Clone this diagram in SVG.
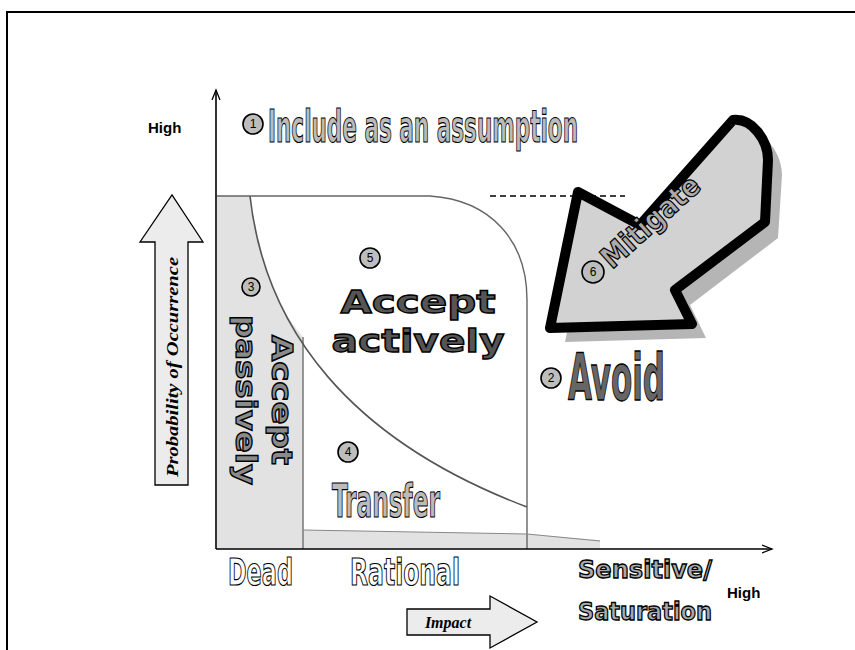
<svg xmlns="http://www.w3.org/2000/svg" width="855" height="650" viewBox="0 0 855 650">
<defs>
<style>
.ol{font-family:"DejaVu Sans Condensed","Liberation Sans",sans-serif;font-weight:bold;fill:#bbb;stroke:#000;stroke-width:1.2}
.hv{font-family:"DejaVu Sans","Liberation Sans",sans-serif;font-weight:bold;fill:#8a8a8a;stroke:#000;stroke-width:1.3}
.ax{font-family:"Liberation Sans",Arial,sans-serif;font-weight:bold;font-size:15px;fill:#000}
.it{font-family:"Liberation Serif","Times New Roman",serif;font-style:italic;font-weight:bold;fill:#000}
.num circle{fill:#bdbdbd;stroke:#000;stroke-width:1.6}
.num text{font-family:"Liberation Sans",Arial,sans-serif;font-size:12px;fill:#000;text-anchor:middle}
.zone{fill:#e2e2e2}
.edge{fill:none;stroke:#777;stroke-width:1.5}
</style>
<marker id="ah" markerWidth="12" markerHeight="10" refX="10" refY="5" orient="auto" markerUnits="userSpaceOnUse">
<path d="M0,1 L10,5 L0,9" fill="none" stroke="#000" stroke-width="1.3"/>
</marker>
</defs>
<rect width="855" height="650" fill="#fff"/>
<!-- frame -->
<path d="M7,650 V12 H855" fill="none" stroke="#000" stroke-width="2"/>

<!-- regions -->
<g id="zones">
<path class="zone" d="M217,196 L250,196 Q262,290 303,337 L303,549 L217,549 Z"/>
<path class="zone" d="M303,530 L527,534 L600,540 L600,549 L303,549 Z"/>
<path d="M217,196 H430 C490,200 527,240 527,300 V549" fill="none" stroke="#666" stroke-width="1.4"/>
<path d="M303,337 V549" class="edge"/>
<path d="M303,530 L527,534 L600,541" fill="none" stroke="#888" stroke-width="1"/>
<path d="M250,196 C265,330 350,440 527,507" fill="none" stroke="#555" stroke-width="1.6"/>
<path d="M490,196 H625" fill="none" stroke="#000" stroke-width="1.5" stroke-dasharray="6,4"/>
</g>

<!-- axes -->
<g id="connectors">
<path d="M216,549 V90" fill="none" stroke="#000" stroke-width="1.6" marker-end="url(#ah)"/>
<path d="M216,549 H772" fill="none" stroke="#000" stroke-width="1.6" marker-end="url(#ah)"/>
</g>

<g id="axis-labels">
<text class="ax" x="148" y="133">High</text>
<text class="ax" x="727" y="598">High</text>
</g>

<g id="prob-arrow">
<path d="M155,485 V242 H140 L172,195 L203,242 H188 V485 Z" fill="#ececec" stroke="#000" stroke-width="1.3"/>
<text class="it" font-size="17" transform="translate(178,367) rotate(-90)" text-anchor="middle" textLength="220" lengthAdjust="spacingAndGlyphs">Probability of Occurrence</text>
</g>

<g id="impact-arrow">
<path d="M407,609 H490 V596 L537,622 L490,648 V635 H407 Z" fill="#ececec" stroke="#000" stroke-width="1.3"/>
<text class="it" font-size="16" x="448" y="628" text-anchor="middle">Impact</text>
</g>

<g id="n1">
<g class="num"><circle cx="253" cy="124" r="10"/><text x="253" y="128">1</text></g>
<text class="ol" x="268" y="142" font-size="44" textLength="310" lengthAdjust="spacingAndGlyphs">Include as an assumption</text>
</g>

<g id="n3">
<g class="num"><circle cx="251" cy="287" r="9"/><text x="251" y="291">3</text></g>
<text class="hv" font-size="28" transform="translate(272,335) rotate(90)" textLength="130" lengthAdjust="spacingAndGlyphs">Accept</text>
<text class="hv" font-size="28" transform="translate(236,315) rotate(90)" textLength="170" lengthAdjust="spacingAndGlyphs">passively</text>
</g>

<g id="n5">
<g class="num"><circle cx="370" cy="258" r="10"/><text x="370" y="262">5</text></g>
<text class="hv" font-size="32" x="418" y="313" text-anchor="middle" textLength="155" lengthAdjust="spacingAndGlyphs" style="fill:#555">Accept</text>
<text class="hv" font-size="32" x="418" y="352" text-anchor="middle" textLength="173" lengthAdjust="spacingAndGlyphs" style="fill:#555">actively</text>
</g>

<g id="n4">
<g class="num"><circle cx="348" cy="452" r="10"/><text x="348" y="456">4</text></g>
<text class="ol" x="332" y="517" font-size="46" textLength="108" lengthAdjust="spacingAndGlyphs">Transfer</text>
</g>

<g id="n2">
<g class="num"><circle cx="551" cy="378" r="10"/><text x="551" y="382">2</text></g>
<text class="hv" x="568" y="400" font-size="64" textLength="97" lengthAdjust="spacingAndGlyphs" style="fill:#666">Avoid</text>
</g>

<g id="n6">
<path d="M565,342 L593,205 L655,238 L748,133 C768,133 782,155 782,175 L778,238 L690,305 L706,338 Z" fill="#a8a8a8" opacity="0.85"/>
<path d="M550,328 L578,192 L640,225 L733,120 C752,118 768,140 768,160 L765,222 L675,290 L692,324 Z" fill="#d2d2d2" stroke="#000" stroke-width="10" stroke-linejoin="round"/>
<g class="num"><circle cx="593" cy="272" r="11"/><text x="593" y="276">6</text></g>
<text class="ol" font-size="30" transform="translate(612,270) rotate(-42)" textLength="122" lengthAdjust="spacingAndGlyphs" style="fill:#aaa">Mitigate</text>
</g>

<g id="x-labels">
<text class="ol" x="228" y="585" font-size="38" textLength="65" lengthAdjust="spacingAndGlyphs" style="fill:#fff">Dead</text>
<text class="ol" x="350" y="585" font-size="38" textLength="110" lengthAdjust="spacingAndGlyphs" style="fill:#fff">Rational</text>
<text class="hv" x="578" y="578" font-size="24" textLength="134" lengthAdjust="spacingAndGlyphs" style="fill:#aaa">Sensitive/</text>
<text class="hv" x="578" y="620" font-size="24" textLength="134" lengthAdjust="spacingAndGlyphs" style="fill:#aaa">Saturation</text>
</g>
</svg>
